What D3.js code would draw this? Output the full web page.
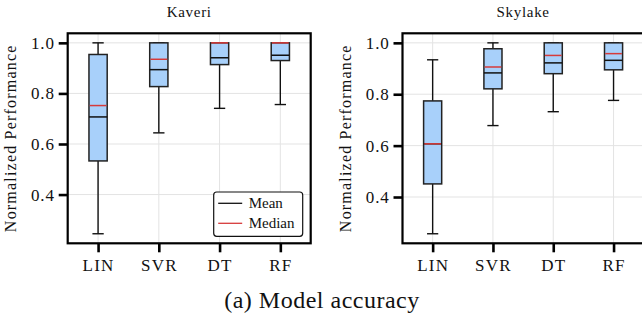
<!DOCTYPE html>
<html>
<head>
<meta charset="utf-8">
<script src="https://cdn.jsdelivr.net/npm/d3@7"></script>
<style>
  html, body { margin: 0; padding: 0; background: #fff; }
  svg { display: block; font-family: "Liberation Serif", "Times New Roman", serif; }
</style>
</head>
<body>
<svg id="chart" width="642" height="319"></svg>
<script>
// ---- data ----
const categories = ["LIN", "SVR", "DT", "RF"];
const yTicks = [0.4, 0.6, 0.8, 1.0];

const kaveriLow    = [0.245, 0.644, 0.741, 0.756];
const kaveriQ1     = [0.533, 0.827, 0.914, 0.930];
const kaveriMedian = [0.752, 0.935, 1.000, 1.000];
const kaveriMean   = [0.707, 0.894, 0.941, 0.951];
const kaveriQ3     = [0.954, 1.000, 1.000, 1.000];
const kaveriHigh   = [1.000, 1.000, 1.000, 1.000];

const skylakeLow    = [0.257, 0.678, 0.732, 0.776];
const skylakeQ1     = [0.451, 0.821, 0.880, 0.895];
const skylakeMedian = [0.607, 0.906, 0.951, 0.958];
const skylakeMean   = [0.607, 0.883, 0.922, 0.932];
const skylakeQ3     = [0.774, 0.977, 1.000, 1.000];
const skylakeHigh   = [0.934, 1.000, 1.000, 1.000];

const panels = [
  { title: "Kaveri", low: kaveriLow, q1: kaveriQ1, median: kaveriMedian, mean: kaveriMean, q3: kaveriQ3, high: kaveriHigh,
    left: 67.7, width: 243, legend: true },
  { title: "Skylake", low: skylakeLow, q1: skylakeQ1, median: skylakeMedian, mean: skylakeMean, q3: skylakeQ3, high: skylakeHigh,
    left: 402.5, width: 241.2, legend: false }
];

const svg = d3.select("#chart");
const plotTop = 33.3, plotBottom = 243.3;
const boxFill = "#a8d0fa";
const medianColor = "#d63a3a";

panels.forEach(p => {
  const lo = d3.min(p.low), hi = d3.max(p.high);
  const pad = (hi - lo) * 0.05;
  const y = d3.scaleLinear().domain([lo - pad, hi + pad]).range([plotBottom, plotTop]);
  const x = d3.scalePoint().domain(categories).range([p.left, p.left + p.width]).padding(0.5);
  const step = x.step();
  const boxW = step * 0.3;
  const capW = boxW * 0.62;

  const g = svg.append("g");

  // grid
  g.append("g").selectAll("line").data(yTicks).join("line")
    .attr("x1", p.left).attr("x2", p.left + p.width)
    .attr("y1", d => y(d)).attr("y2", d => y(d))
    .attr("stroke", "#e3e3e3").attr("stroke-width", 1);
  g.append("g").selectAll("line").data(categories).join("line")
    .attr("x1", d => x(d)).attr("x2", d => x(d))
    .attr("y1", plotTop).attr("y2", plotBottom)
    .attr("stroke", "#e3e3e3").attr("stroke-width", 1);

  const data = categories.map((c, i) => ({
    c, low: p.low[i], q1: p.q1[i], median: p.median[i], mean: p.mean[i], q3: p.q3[i], high: p.high[i]
  }));

  const items = g.append("g").selectAll("g").data(data).join("g");
  // whiskers
  items.append("line").attr("x1", d => x(d.c)).attr("x2", d => x(d.c))
    .attr("y1", d => y(d.low)).attr("y2", d => y(d.q1))
    .attr("stroke", "#111").attr("stroke-width", 1.4);
  items.append("line").attr("x1", d => x(d.c)).attr("x2", d => x(d.c))
    .attr("y1", d => y(d.q3)).attr("y2", d => y(d.high))
    .attr("stroke", "#111").attr("stroke-width", 1.4);
  // caps
  items.append("line").attr("x1", d => x(d.c) - capW / 2).attr("x2", d => x(d.c) + capW / 2)
    .attr("y1", d => y(d.low)).attr("y2", d => y(d.low))
    .attr("stroke", "#111").attr("stroke-width", 1.4);
  items.append("line").attr("x1", d => x(d.c) - capW / 2).attr("x2", d => x(d.c) + capW / 2)
    .attr("y1", d => y(d.high)).attr("y2", d => y(d.high))
    .attr("stroke", "#111").attr("stroke-width", 1.4);
  // box
  items.append("rect")
    .attr("x", d => x(d.c) - boxW / 2).attr("width", boxW)
    .attr("y", d => y(d.q3)).attr("height", d => y(d.q1) - y(d.q3))
    .attr("fill", boxFill).attr("stroke", "#222").attr("stroke-width", 1.5);
  // mean (black)
  items.append("line").attr("x1", d => x(d.c) - boxW / 2).attr("x2", d => x(d.c) + boxW / 2)
    .attr("y1", d => y(d.mean)).attr("y2", d => y(d.mean))
    .attr("stroke", "#111").attr("stroke-width", 1.5);
  // median (red)
  items.append("line").attr("x1", d => x(d.c) - boxW / 2 + 0.7).attr("x2", d => x(d.c) + boxW / 2 - 0.7)
    .attr("y1", d => y(d.median)).attr("y2", d => y(d.median))
    .attr("stroke", medianColor).attr("stroke-width", 1.5);

  // axes
  const yAxis = d3.axisLeft(y).tickValues(yTicks).tickFormat(d3.format(".1f"))
    .tickSizeInner(9).tickSizeOuter(0).tickPadding(4);
  const ya = g.append("g").attr("transform", `translate(${p.left},0)`).call(yAxis);
  ya.select(".domain").remove();
  ya.selectAll(".tick line").attr("stroke", "#000").attr("stroke-width", 2.6);
  ya.selectAll(".tick text").attr("font-size", 17).attr("fill", "#111")
    .attr("font-family", "Liberation Serif, serif").attr("letter-spacing", 0.8);

  const xAxis = d3.axisBottom(x).tickSizeInner(9).tickSizeOuter(0).tickPadding(7);
  const xa = g.append("g").attr("transform", `translate(0,${plotBottom})`).call(xAxis);
  xa.select(".domain").remove();
  xa.selectAll(".tick line").attr("stroke", "#000").attr("stroke-width", 2.6);
  xa.selectAll(".tick text").attr("font-size", 17).attr("fill", "#111")
    .attr("font-family", "Liberation Serif, serif").attr("letter-spacing", 1.2);

  // spines
  g.append("rect").attr("x", p.left).attr("y", plotTop).attr("width", p.width).attr("height", plotBottom - plotTop)
    .attr("fill", "none").attr("stroke", "#000").attr("stroke-width", 2.2);

  // title
  g.append("text").attr("x", p.left + p.width / 2).attr("y", 17)
    .attr("text-anchor", "middle").attr("font-size", 15).attr("letter-spacing", 0.7).attr("fill", "#111")
    .text(p.title);

  // y label
  g.append("text")
    .attr("transform", `translate(${p.left - 52},${(plotTop + plotBottom) / 2}) rotate(-90)`)
    .attr("text-anchor", "middle").attr("font-size", 16).attr("letter-spacing", 1.2).attr("fill", "#111")
    .text("Normalized Performance");

  if (p.legend) {
    const lx = 213.7, ly = 192;
    const lg = g.append("g");
    lg.append("rect").attr("x", lx).attr("y", ly).attr("width", 89).attr("height", 44.3).attr("rx", 3)
      .attr("fill", "#fff").attr("stroke", "#111").attr("stroke-width", 1.2);
    const entries = [{ name: "Mean", color: "#111" }, { name: "Median", color: medianColor }];
    entries.forEach((e, i) => {
      const cy = ly + 11.3 + i * 20;
      lg.append("line").attr("x1", lx + 4.5).attr("x2", lx + 28.5).attr("y1", cy).attr("y2", cy)
        .attr("stroke", e.color).attr("stroke-width", 1.3);
      lg.append("text").attr("x", lx + 35).attr("y", cy + 5).attr("font-size", 15).attr("fill", "#111")
        .text(e.name);
    });
  }
});

// caption
svg.append("text").attr("x", 322).attr("y", 308).attr("text-anchor", "middle")
  .attr("font-size", 24).attr("letter-spacing", 0.5).attr("fill", "#111")
  .text("(a) Model accuracy");
</script>
</body>
</html>
